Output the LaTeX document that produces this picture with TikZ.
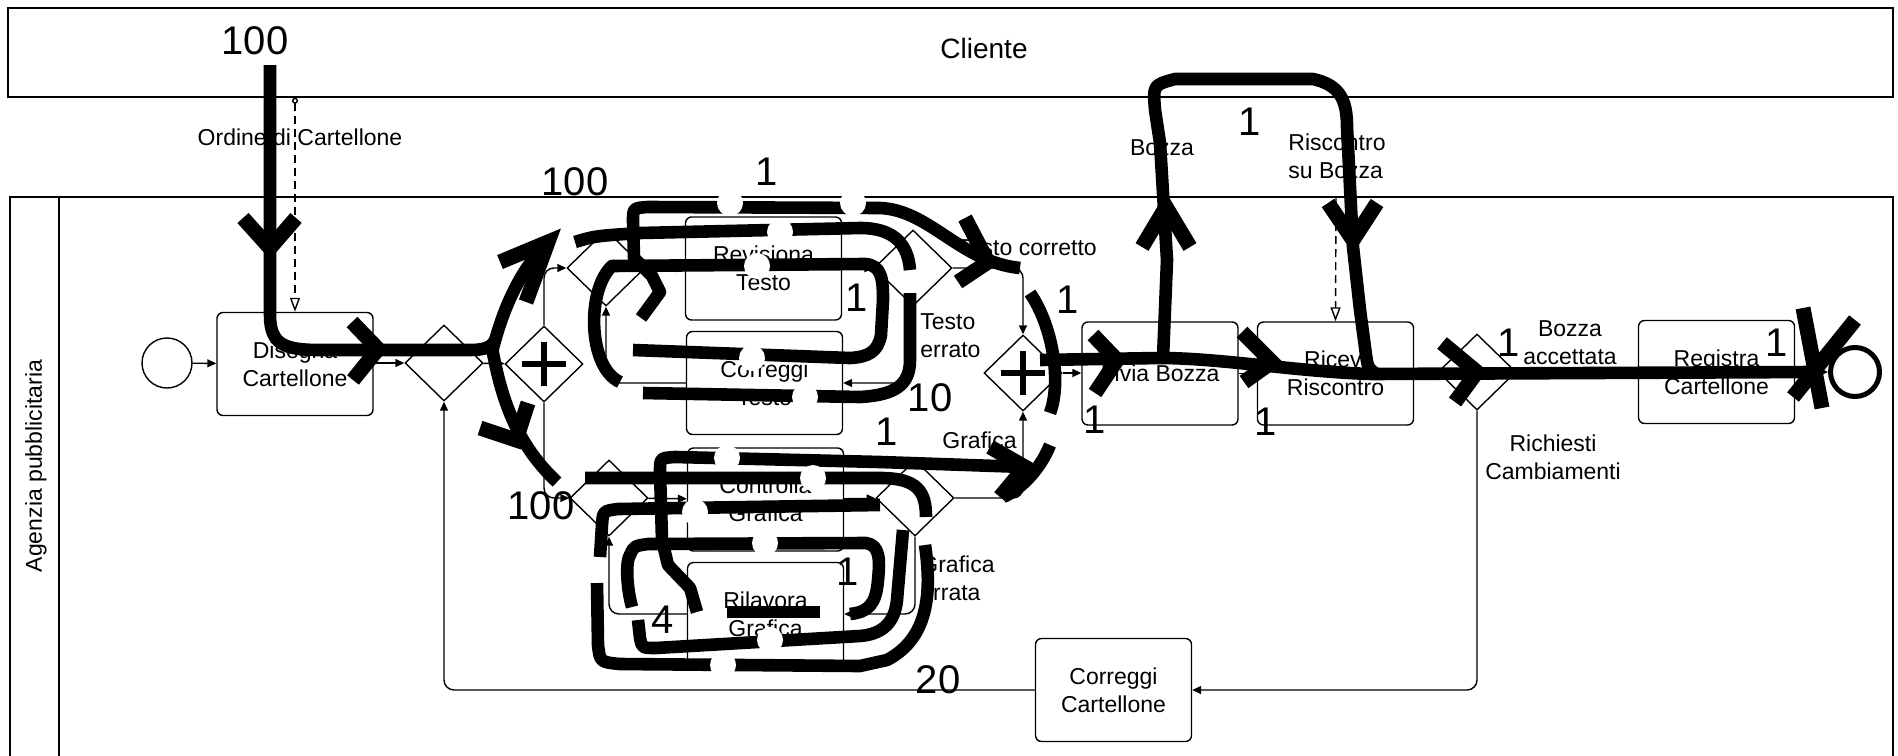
\documentclass[tikz,border=0pt]{standalone}
\usepackage{fontspec}
\setmainfont{Liberation Sans}
\usetikzlibrary{arrows.meta,shapes.geometric,calc}
\newcommand\lblfont{\fontsize{11.5}{14}\selectfont}
\begin{document}
\begin{tikzpicture}[x=0.5pt,y=-0.5pt,
  task/.style={draw,line width=0.7pt,rounded corners=3pt,minimum width=78pt,minimum height=51.5pt,align=center,inner sep=0pt,font=\lblfont},
  gw/.style={draw,diamond,line width=0.7pt,minimum width=39pt,minimum height=38pt,inner sep=0pt},
  pgw/.style={gw,path picture={\draw[line width=2.6pt] ([xshift=-11pt]path picture bounding box.center) -- ([xshift=11pt]path picture bounding box.center); \draw[line width=2.6pt] ([yshift=-11pt]path picture bounding box.center) -- ([yshift=11pt]path picture bounding box.center);}},
  flow/.style={line width=0.7pt,-{Triangle[length=4.5pt,width=4pt]},rounded corners=5pt},
  msg/.style={line width=0.7pt,dash pattern=on 4pt off 2.5pt,{Circle[open,length=3pt,width=3pt]}-{Triangle[open,length=7pt,width=5pt]}},
  msgb/.style={line width=0.7pt,dash pattern=on 4pt off 2.5pt,-{Triangle[open,length=7pt,width=5pt]}},
  hs/.style={line width=6.3pt,line join=round},
  chev/.style={line width=7.5pt,line join=miter},
  lab/.style={font=\lblfont,align=left,inner sep=0pt},
  num/.style={font=\fontsize{20}{22}\selectfont,inner sep=0pt},
]
\useasboundingbox (0,0) rectangle (1898,755);
\clip (0,0) rectangle (1898,755);

% pools
\node[draw,line width=0.7pt,minimum width=942.5pt,minimum height=44.5pt,inner sep=0pt] (cliente) at (950.5,52.5) {};
\node[font=\fontsize{14}{16}\selectfont,inner sep=0pt] (clienteT) at (984,48) {Cliente};
\draw[line width=0.7pt] (10,800) -- (10,197) -- (1893,197) -- (1893,800);
\draw[line width=0.7pt] (59,197) -- (59,800);
\node[rotate=90,font=\lblfont,inner sep=0pt] (agT) at (36,466) {Agenzia pubblicitaria};

% events
\node[draw,circle,line width=0.7pt,minimum size=25pt,inner sep=0pt] (start) at (167,363) {};
\node[draw,circle,line width=2.5pt,minimum size=24.5pt,inner sep=0pt] (end) at (1855,372) {};

% tasks
\node[task] (dis) at (295,364) {Disegna\\Cartellone};
\node[task] (rev) at (763.5,268.5) {Revisiona\\Testo};
\node[task] (cort) at (764.5,383) {Correggi\\Testo};
\node[task] (ctrl) at (765.5,499.5) {Controlla\\Grafica};
\node[task] (ril) at (765.5,614) {Rilavora\\Grafica};
\node[task] (inv) at (1160,373.5) {Invia Bozza};
\node[task] (ric) at (1335.5,373.5) {Ricevi\\Riscontro};
\node[task] (reg) at (1716.5,372) {Registra\\Cartellone};
\node[task] (corc) at (1113.5,690) {Correggi\\Cartellone};

% gateways
\node[gw] (g1) at (444,363) {};
\node[pgw] (g2) at (544,364) {};
\node[gw] (g3) at (606,268) {};
\node[gw] (g4) at (913,268) {};
\node[pgw] (g5) at (1023,373) {};
\node[gw] (g7) at (609,498) {};
\node[gw] (g8) at (915,498) {};
\node[gw] (g6) at (1477,372) {};

% sequence flows
\draw[flow] (start) -- (dis);
\draw[flow] (dis.east |- g1.west) -- (g1.west);
\draw[flow] (g1) -- (g2);
\draw[flow] (g2.north) |- (g3.west);
\draw[flow] (g3) -- (rev);
\draw[flow] (rev) -- (g4);
\draw[flow] (g4.east) -| (g5.north);
\draw[flow] (g4.south) |- (cort.east);
\draw[flow] (cort.west) -| (g3.south);
\draw[flow] (g2.south) |- (g7.west);
\draw[flow] (g7) -- (ctrl);
\draw[flow] (ctrl) -- (g8);
\draw[flow] (g8.east) -| (g5.south);
\draw[flow] (g8.south) |- (ril.east);
\draw[flow] (ril.west) -| (g7.south);
\draw[flow] (g5.east) -- (inv.west |- g5.east);
\draw[flow] (inv) -- (ric);
\draw[flow] (ric.east) -- (g6.west);
\draw[flow] (g6) -- (reg);
\draw[flow] (reg) -- (end);
\draw[flow] (g6.south) |- (corc.east);
\draw[flow] (corc.west) -| (g1.south);

% message flows
\coordinate (m1) at (dis.north |- cliente.south);
\draw[msg] (m1) -- (dis.north);
\coordinate (m3) at (1336,197);
\draw[msgb] (m3) -- (ric.north);

% labels
\node[lab] (lOrd) at (300,137) {Ordine di Cartellone};
\node[lab] (lBoz) at (1162,148) {Bozza};
\node[lab,anchor=west] (lRis) at (1288,156) {Riscontro\\su Bozza};
\node[lab,anchor=west] (lTc) at (957,248) {Testo corretto};
\node[lab,anchor=west] (lTe) at (920,336) {Testo\\errato};
\node[lab,anchor=west] (lGr) at (942,440) {Grafica};
\node[lab,anchor=west] (lGe) at (920,578) {Grafica\\errata};
\node[lab,align=center] (lBa) at (1570,343) {Bozza\\accettata};
\node[lab,align=center] (lRc) at (1553,457) {Richiesti\\Cambiamenti};

% ---- hand-drawn strokes ----
\draw[hs] (270,65) -- (270,315) .. controls (270,345) and (285,350) .. (320,350) -- (470,350) .. controls (485,350) and (492,347) .. (495,340);
\draw[hs] (492,352) .. controls (500,320) and (515,275) .. (548,242);
\draw[chev] (500,262) -- (548,242) -- (526,302);
\draw[hs] (492,348) .. controls (500,390) and (512,440) .. (557,482);
\draw[chev] (480,428) -- (516,440) -- (528,403);
\draw[chev] (243,218) -- (270,248) -- (296,218);
\draw[chev] (352,322) -- (378,349) -- (353,380);

% upper loops
\draw[hs] (641,318) -- (660,292) -- (652,276) -- (634,258) -- (633,222) .. controls (633,208) .. (648,207) -- (880,208) .. controls (930,210) and (960,262) .. (1020,268);
\draw[chev] (965,218) -- (988,262) -- (958,282);
\draw[hs] (575,242) .. controls (595,236) .. (640,233) -- (860,228) .. controls (895,228) and (908,245) .. (910,270);
\draw[hs] (910,293) -- (910,360) .. controls (910,385) and (895,395) .. (860,397) -- (643,393);
\draw[hs] (620,382) .. controls (588,368) and (586,290) .. (612,266) -- (865,264) .. controls (882,265) and (883,280) .. (883,300) -- (881,335) .. controls (878,352) and (868,357) .. (850,358) -- (633,350);

% right arc around join
\draw[hs] (1030,293) .. controls (1052,325) and (1062,380) .. (1050,413);
\draw[hs] (1050,445) .. controls (1040,470) and (1020,490) .. (1003,497);

% main line to the end
\draw[hs] (1040,360) -- (1160,358) .. controls (1220,358) and (1300,372) .. (1372,374) -- (1813,372);
\draw[hs] (1163,358) -- (1167,260) -- (1160,143) -- (1155,110) .. controls (1153,85) .. (1175,79) -- (1313,79) .. controls (1340,85) and (1347,100) .. (1347,127) -- (1353,247) -- (1360,310) -- (1366,355) .. controls (1368,368) .. (1375,373);
\draw[chev] (1142,247) -- (1166,207) -- (1190,247);
\draw[chev] (1328,203) -- (1353,240) -- (1377,203);
\draw[chev] (1093,335) -- (1117,360) -- (1095,393);
\draw[chev] (1242,332) -- (1272,362) -- (1244,382);
\draw[chev] (1442,343) -- (1477,372) -- (1455,402);
\draw[chev] (1803,308) -- (1822,408);
\draw[chev] (1855,320) -- (1793,397);

% lower loops
\draw[hs] (697,612) -- (690,588) -- (668,565) -- (662,540) -- (660,472) .. controls (660,458) .. (675,457) -- (880,462) -- (1025,467);
\draw[chev] (990,447) -- (1025,467) -- (1000,497);
\draw[hs] (585,478) -- (880,478) .. controls (918,478) and (926,492) .. (926,517);
\draw[hs] (600,557) -- (602,525) .. controls (603,511) .. (618,509) -- (880,505);
\draw[hs] (632,607) .. controls (626,585) and (626,560) .. (630,555) .. controls (634,546) .. (648,544) -- (866,543) .. controls (880,545) and (880,560) .. (878,580) .. controls (876,605) and (868,612) .. (850,614);
\draw[hs] (638,620) -- (640,638) .. controls (642,648) .. (656,648) -- (860,636) .. controls (885,634) and (895,620) .. (897,600) -- (903,530);
\draw[hs] (597,583) -- (598,645) .. controls (600,662) .. (620,664) -- (860,666) -- (887,660) .. controls (925,640) and (933,600) .. (925,545);
\draw[hs] (727,612) -- (820,612);

% white erasures
\foreach \p in {(730,203),(853,203),(780,232),(757,266),(805,397),(752,358),(727,458),(813,478),(765,543),(770,640),(723,665),(695,512)}
  \fill[white] \p circle (6.5pt);

% counts
\node[num] (n1) at (255,41) {100};
\node[num] (n2) at (575,182) {100};
\node[num] (n3) at (767,172) {1};
\node[num] (n4) at (857,298) {1};
\node[num] (n5) at (930,398) {10};
\node[num] (n6) at (1068,300) {1};
\node[num] (n7) at (887,432) {1};
\node[num] (n8) at (1095,420) {1};
\node[num] (n9) at (1266,422) {1};
\node[num] (n10) at (1250,122) {1};
\node[num] (n11) at (1509,343) {1};
\node[num] (n12) at (1777,343) {1};
\node[num] (n13) at (541,506) {100};
\node[num] (n14) at (663,620) {4};
\node[num] (n15) at (848,572) {1};
\node[num] (n16) at (938,680) {20};
\end{tikzpicture}
\end{document}
